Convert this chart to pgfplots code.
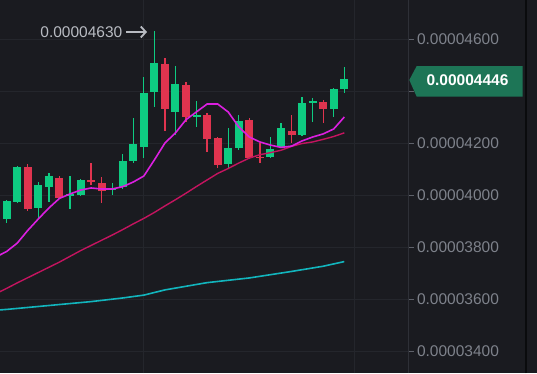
\documentclass[border=0pt]{standalone}
\usepackage{fontspec}
\setmainfont{Liberation Sans}
\usepackage{pgfplots}
\usepackage{pgfplotstable}
\pgfplotsset{compat=1.18}
\usetikzlibrary{arrows.meta}
\definecolor{bg}{HTML}{1A1B20}
\definecolor{gridc}{HTML}{24262C}
\definecolor{labelc}{HTML}{7E828B}
\definecolor{tickc}{HTML}{5E616A}
\definecolor{sepc}{HTML}{2E3037}
\definecolor{upc}{HTML}{0ECB81}
\definecolor{downc}{HTML}{E0344F}
\definecolor{magc}{HTML}{DB1FE0}
\definecolor{crimc}{HTML}{C4145F}
\definecolor{cyanc}{HTML}{12B5BD}
\definecolor{tagc}{HTML}{1D7556}
\definecolor{annc}{HTML}{B8BBC2}

% values in units of 1e-8
\pgfplotstableread{
i  o    h    l    c
-1 3838 3900 3830 3896
0  3907 3980 3892 3977
1  3974 4112 3970 4109
3  3949 4050 3907 4038
4  4030 4086 3974 4073
6  3998 4073 3946 4002
7  4000 4062 3998 4058
10 4019 4046 4000 4027
11 4031 4157 4025 4131
12 4131 4295 4125 4195
13 4186 4455 4141 4393
14 4397 4630 4340 4506
16 4320 4496 4231 4426
18 4302 4363 4260 4306
21 4118 4257 4103 4182
22 4180 4308 4175 4285
25 4145 4224 4142 4176
26 4185 4276 4182 4257
28 4229 4378 4225 4354
29 4357 4373 4281 4362
31 4331 4412 4301 4408
32 4408 4493 4394 4446
}\upcandles

\pgfplotstableread{
i  o    h    l    c
2  4109 4118 3940 3946
5  4064 4073 3985 3988
8  4058 4122 4038 4049
9  4045 4070 3968 4017
15 4503 4526 4247 4330
17 4423 4433 4282 4299
19 4308 4314 4167 4214
20 4218 4222 4104 4115
23 4288 4295 4138 4141
24 4148 4199 4122 4144
27 4246 4308 4199 4231
30 4358 4365 4277 4331
}\downcandles

\pgfplotstableread{
i  v
-1 3762
0  3783
1  3815
2  3864
3  3908
4  3950
5  3987
6  4004
7  4019
8  4027
9  4023
10 4023
11 4032
12 4050
13 4073
14 4135
15 4200
16 4239
17 4290
18 4320
19 4350
20 4350
21 4319
22 4262
23 4223
24 4204
25 4192
26 4183
27 4188
28 4208
29 4223
30 4235
31 4254
32 4300
}\maA

\pgfplotstableread{
i  v
-1 3621
0  3641
1  3662
2  3682
3  3702
4  3722
5  3742
6  3764
7  3786
8  3806
9  3826
10 3846
11 3867
12 3889
13 3910
14 3933
15 3958
16 3982
17 4007
18 4033
19 4058
20 4083
21 4102
22 4123
23 4142
24 4155
25 4163
26 4172
27 4187
28 4198
29 4204
30 4214
31 4225
32 4239
}\maB

\pgfplotstableread{
i  v
-1 3557
0  3560
4  3575
8  3590
11 3604
13 3615
15 3635
19 3663
23 3681
27 3706
30 3726
32 3744
}\maC

\pgfplotsset{candle/.style={draw=none, mark=none, forget plot,
  error bars/.cd, y dir=both, y explicit, error mark=none}}

\begin{document}
\begin{tikzpicture}[x=1bp,y=1bp]
\fill[bg] (0,0) rectangle (537,373);
\begin{axis}[
  at={(0,0)}, anchor=south west,
  scale only axis, width=408bp, height=373bp,
  xmin=-0.635, xmax=38.04, ymin=3315.4, ymax=4750,
  axis line style={draw=none},
  xtick={13,33}, xticklabels={}, xmajorgrids,
  ytick={3400,3600,3800,4000,4200,4400,4600},
  yticklabels={0.00003400,0.00003600,0.00003800,0.00004000,0.00004200,{},0.00004600},
  ymajorgrids,
  grid style={color=gridc, line width=0.8bp},
  ytick pos=right, yticklabel pos=right,
  tick align=outside,
  major tick length=5.5bp,
  x tick style={draw=none},
  y tick style={color=tickc, line width=0.9bp},
  yticklabel style={font=\fontsize{15.5bp}{18bp}\selectfont, text=labelc, anchor=west},
]
% wicks
\addplot[candle, error bar style={draw=upc, solid, line width=1.3bp}]
  table[x=i, y expr={(\thisrow{h}+\thisrow{l})/2}, y error expr={(\thisrow{h}-\thisrow{l})/2}] {\upcandles};
\addplot[candle, error bar style={draw=downc, solid, line width=1.3bp}]
  table[x=i, y expr={(\thisrow{h}+\thisrow{l})/2}, y error expr={(\thisrow{h}-\thisrow{l})/2}] {\downcandles};
% bodies
\addplot[candle, error bar style={draw=upc, solid, line width=8bp, line cap=butt}]
  table[x=i, y expr={(\thisrow{o}+\thisrow{c})/2}, y error expr={abs(\thisrow{c}-\thisrow{o})/2}] {\upcandles};
\addplot[candle, error bar style={draw=downc, solid, line width=8bp, line cap=butt}]
  table[x=i, y expr={(\thisrow{o}+\thisrow{c})/2}, y error expr={abs(\thisrow{c}-\thisrow{o})/2}] {\downcandles};
% moving averages
\addplot[cyanc, line width=1.6bp, mark=none] table[x=i, y=v] {\maC};
\addplot[crimc, line width=1.4bp, mark=none] table[x=i, y=v] {\maB};
\addplot[magc, line width=1.6bp, mark=none] table[x=i, y=v] {\maA};
\end{axis}
\draw[sepc, line width=1bp] (408,0) -- (408,373);
\draw[black!60!bg, line width=1.5bp] (526,0) -- (526,373);
% last price tag
\fill[tagc] (409.3,293) -- (416.7,307) -- (522.7,307) -- (522.7,276.3) -- (416.7,276.3) -- cycle;
\node[text=white, font=\bfseries\fontsize{15.5bp}{18bp}\selectfont, inner sep=0pt] at (467.5,293) {0.00004446};
% high annotation
\node[anchor=east, text=annc, font=\fontsize{15.5bp}{18bp}\selectfont, inner sep=0pt] at (122.5,341) {0.00004630};
\draw[annc, line width=1.8bp, -{Straight Barb[length=5bp,width=11bp]}] (126,341) -- (147,341);
\pgfresetboundingbox
\useasboundingbox (0,0) rectangle (537,373);
\end{tikzpicture}
\end{document}
